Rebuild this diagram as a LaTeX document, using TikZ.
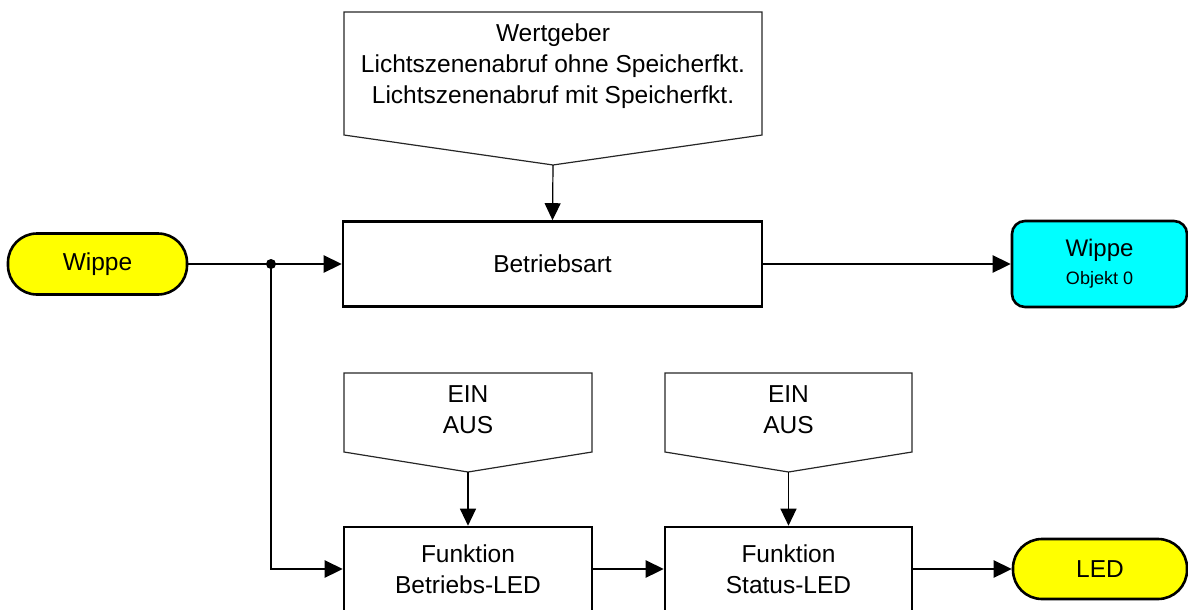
\documentclass[tikz,border=0pt]{standalone}
\usepackage{fontspec}
\setmainfont{Liberation Sans}
\usetikzlibrary{arrows.meta}
\definecolor{termyellow}{RGB}{255,255,0}
\definecolor{objcyan}{RGB}{0,255,255}

\begin{document}
\begin{tikzpicture}[x=1pt, y=-1pt,
        txt/.style={font=\fontsize{24.5}{31}\selectfont, align=center},
        block/.style={draw, rectangle, line width=2.6pt, txt, inner sep=0pt},
        term/.style={draw, rectangle, line width=2.6pt, txt, inner sep=0pt, rounded corners=29pt, fill=termyellow},
        param/.style={draw=black!85, line width=1.2pt},
        flow/.style={-{Triangle[length=18pt,width=17pt]}, line width=2.6pt},
        feed/.style={-{Triangle[length=17pt,width=16pt]}, line width=1.2pt}]
        \useasboundingbox (0,0) rectangle (1188,610);

        % Parameter fields
        \draw[param] (344,12) -- (762,12) -- (762,135) -- (553,165) -- (344,135) -- cycle;
        \coordinate (wgtip) at (553,165);
        \node[txt] (wertgeber) at (553,66) {Wertgeber\\Lichtszenenabruf ohne Speicherfkt.\\Lichtszenenabruf mit Speicherfkt.};

        \draw[param] (344,373) -- (592,373) -- (592,452) -- (468,472) -- (344,452) -- cycle;
        \coordinate (eintip1) at (468,472);
        \node[txt] (einaus1) at (468,410) {EIN\\AUS};

        \draw[param] (665,373) -- (912,373) -- (912,452) -- (788.5,472) -- (665,452) -- cycle;
        \coordinate (eintip2) at (788.5,472);
        \node[txt] (einaus2) at (788.5,410) {EIN\\AUS};

        % Function blocks
        \node[block, minimum width=419pt, minimum height=85pt] (betriebsart) at (552.5,264) {Betriebsart};
        \node[block, minimum width=248pt, minimum height=84pt] (box1) at (468,569) {Funktion\\Betriebs-LED};
        \node[block, minimum width=247pt, minimum height=84pt] (box2) at (788.5,569) {Funktion\\Status-LED};

        % Inputs and outputs
        \node[term, minimum width=179pt, minimum height=61pt] (wippein) at (97.5,264) {Wippe};
        \node[term, minimum width=174pt, minimum height=60pt] (led) at (1100,569) {LED};
        \node[block, fill=objcyan, rounded corners=13pt, minimum width=175pt, minimum height=86pt,
              font=\fontsize{24}{28}\selectfont] (wippeout) at (1099.5,264)
              {Wippe\\{\fontsize{18}{28}\selectfont Objekt 0}};

        % Branch point
        \node[circle, fill, inner sep=0pt, minimum size=10pt] (split) at (271,264) {};

        % Connections
        \draw[flow] (wippein.east) -- (betriebsart.west);
        \draw[flow] (split.center) |- (box1.west);
        \draw[flow] (betriebsart.east) -- (wippeout.west);
        \draw[flow] (box1.east) -- (box2.west);
        \draw[flow] (box2.east) -- (led.west);
        \draw[feed] (wgtip) -- (betriebsart.north);
        \draw[feed] (eintip1) -- (box1.north);
        \draw[feed] (eintip2) -- (box2.north);
    \end{tikzpicture}
\end{document}
